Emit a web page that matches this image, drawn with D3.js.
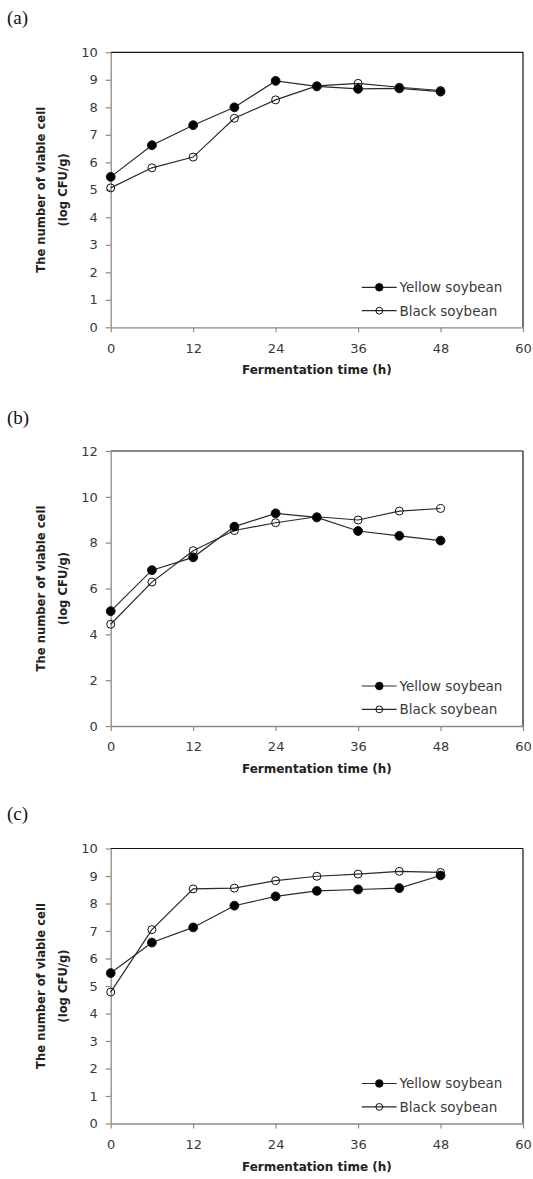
<!DOCTYPE html>
<html>
<head>
<meta charset="utf-8">
<script src="https://cdnjs.cloudflare.com/ajax/libs/d3/7.8.5/d3.min.js"></script>
<style>
  html, body { margin: 0; padding: 0; background: #fff; }
  svg { display: block; }
</style>
</head>
<body>
<div id="chart"></div>
<script>
// fermentation times (h) and viable cell counts (log CFU/g)
var hours = [0, 6, 12, 18, 24, 30, 36, 42, 48];

var yellowA = [5.47, 6.62, 7.35, 8.00, 8.96, 8.76, 8.67, 8.69, 8.57];
var blackA  = [5.07, 5.80, 6.19, 7.60, 8.27, 8.78, 8.87, 8.73, 8.61];

var yellowB = [5.01, 6.80, 7.36, 8.70, 9.28, 9.10, 8.51, 8.30, 8.09];
var blackB  = [4.44, 6.28, 7.65, 8.53, 8.87, 9.13, 8.99, 9.38, 9.49];

var yellowC = [5.47, 6.58, 7.13, 7.92, 8.26, 8.46, 8.51, 8.56, 9.02];
var blackC  = [4.78, 7.05, 8.53, 8.56, 8.83, 8.99, 9.07, 9.17, 9.13];

var xTicks  = [0, 12, 24, 36, 48, 60];
var yTicksA = [0, 1, 2, 3, 4, 5, 6, 7, 8, 9, 10];
var yTicksB = [0, 2, 4, 6, 8, 10, 12];
var yTicksC = [0, 1, 2, 3, 4, 5, 6, 7, 8, 9, 10];

var panelLabels = ['(a)', '(b)', '(c)'];
var seriesNames = ['Yellow soybean', 'Black soybean'];

var W = 533, H = 1179;
var left = 110.7, right = 523, plotH = 275;

var panels = [
  { label: panelLabels[0], top: 52.3, labelY: 24,  yellow: yellowA, black: blackA, yMax: 10, yTicks: yTicksA },
  { label: panelLabels[1], top: 451,  labelY: 424, yellow: yellowB, black: blackB, yMax: 12, yTicks: yTicksB },
  { label: panelLabels[2], top: 848.5, labelY: 820, yellow: yellowC, black: blackC, yMax: 10, yTicks: yTicksC }
];

var svg = d3.select('#chart').append('svg')
  .attr('width', W)
  .attr('height', H);

var axisGrey = '#8a8a8a', textGrey = '#3a3a3a', lineCol = '#2a2a2a';

panels.forEach(function(p) {
  var bottom = p.top + plotH;
  var x = d3.scaleLinear().domain([0, 60]).range([left, right]);
  var y = d3.scaleLinear().domain([0, p.yMax]).range([bottom, p.top]);
  var g = svg.append('g');

  // panel letter
  g.append('text')
    .attr('x', 7).attr('y', p.labelY)
    .style('font-family', '"Liberation Serif", "Times New Roman", serif')
    .style('font-size', '19px')
    .style('fill', '#111')
    .text(p.label);

  // plot-area border (top/right)
  g.append('line')
    .attr('x1', left).attr('x2', right).attr('y1', p.top).attr('y2', p.top)
    .style('stroke', '#111').style('stroke-width', 1.2);
  g.append('line')
    .attr('x1', right).attr('x2', right).attr('y1', p.top).attr('y2', bottom)
    .style('stroke', '#111').style('stroke-width', 1.2);

  var yAxis = g.append('g')
    .attr('transform', 'translate(' + left + ',0)')
    .call(d3.axisLeft(y).tickValues(p.yTicks).tickSize(5).tickSizeOuter(0).tickPadding(8));

  var xAxis = g.append('g')
    .attr('transform', 'translate(0,' + bottom + ')')
    .call(d3.axisBottom(x).tickValues(xTicks).tickSize(5).tickSizeOuter(0).tickPadding(11));

  [yAxis, xAxis].forEach(function(a) {
    a.selectAll('path.domain').style('stroke', axisGrey).style('stroke-width', 1.3);
    a.selectAll('.tick line').style('stroke', axisGrey).style('stroke-width', 1.2);
    a.selectAll('.tick text')
      .style('font-family', '"DejaVu Sans", Verdana, sans-serif')
      .style('font-size', '13px')
      .style('fill', textGrey);
  });

  // axis titles
  g.append('text')
    .attr('x', (left + right) / 2).attr('y', bottom + 47)
    .attr('text-anchor', 'middle')
    .style('font-family', '"DejaVu Sans", Verdana, sans-serif')
    .style('font-weight', 'bold')
    .style('font-size', '12px')
    .style('fill', '#222')
    .text('Fermentation time (h)');

  var cy = (p.top + bottom) / 2;
  [['The number of viable cell', 45], ['(log CFU/g)', 67]].forEach(function(t) {
    g.append('text')
      .attr('transform', 'translate(' + t[1] + ',' + cy + ') rotate(-90)')
      .attr('text-anchor', 'middle')
      .style('font-family', '"DejaVu Sans", Verdana, sans-serif')
      .style('font-weight', 'bold')
      .style('font-size', '11.6px')
      .style('fill', '#222')
      .text(t[0]);
  });

  var line = d3.line()
    .x(function(d) { return x(d[0]); })
    .y(function(d) { return y(d[1]); });

  var series = [
    { name: seriesNames[0], values: p.yellow, fill: '#000' },
    { name: seriesNames[1], values: p.black, fill: 'none' }
  ];

  series.forEach(function(s) {
    var pts = hours.map(function(h, i) { return [h, s.values[i]]; });
    g.append('path')
      .datum(pts)
      .attr('d', line)
      .style('fill', 'none')
      .style('stroke', lineCol)
      .style('stroke-width', 1.2);
  });

  series.forEach(function(s) {
    var pts = hours.map(function(h, i) { return [h, s.values[i]]; });
    g.selectAll(null)
      .data(pts)
      .enter().append('circle')
      .attr('cx', function(d) { return x(d[0]); })
      .attr('cy', function(d) { return y(d[1]); })
      .attr('r', s.fill === 'none' ? 4 : 4.4)
      .style('fill', s.fill)
      .style('stroke', '#111')
      .style('stroke-width', 1);
  });

  // legend
  series.forEach(function(s, i) {
    var ly = bottom - 40 + i * 23.4;
    g.append('line')
      .attr('x1', 361.7).attr('x2', 396.7).attr('y1', ly).attr('y2', ly)
      .style('stroke', lineCol).style('stroke-width', 1.2);
    g.append('circle')
      .attr('cx', 379.3).attr('cy', ly).attr('r', s.fill === 'none' ? 3.4 : 3.8)
      .style('fill', s.fill).style('stroke', '#111').style('stroke-width', 1);
    g.append('text')
      .attr('x', 399.5).attr('y', ly).attr('dy', '0.36em')
      .style('font-family', '"DejaVu Sans", Verdana, sans-serif')
      .style('font-size', '13.5px')
      .style('fill', textGrey)
      .text(s.name);
  });
});
</script>
</body>
</html>
